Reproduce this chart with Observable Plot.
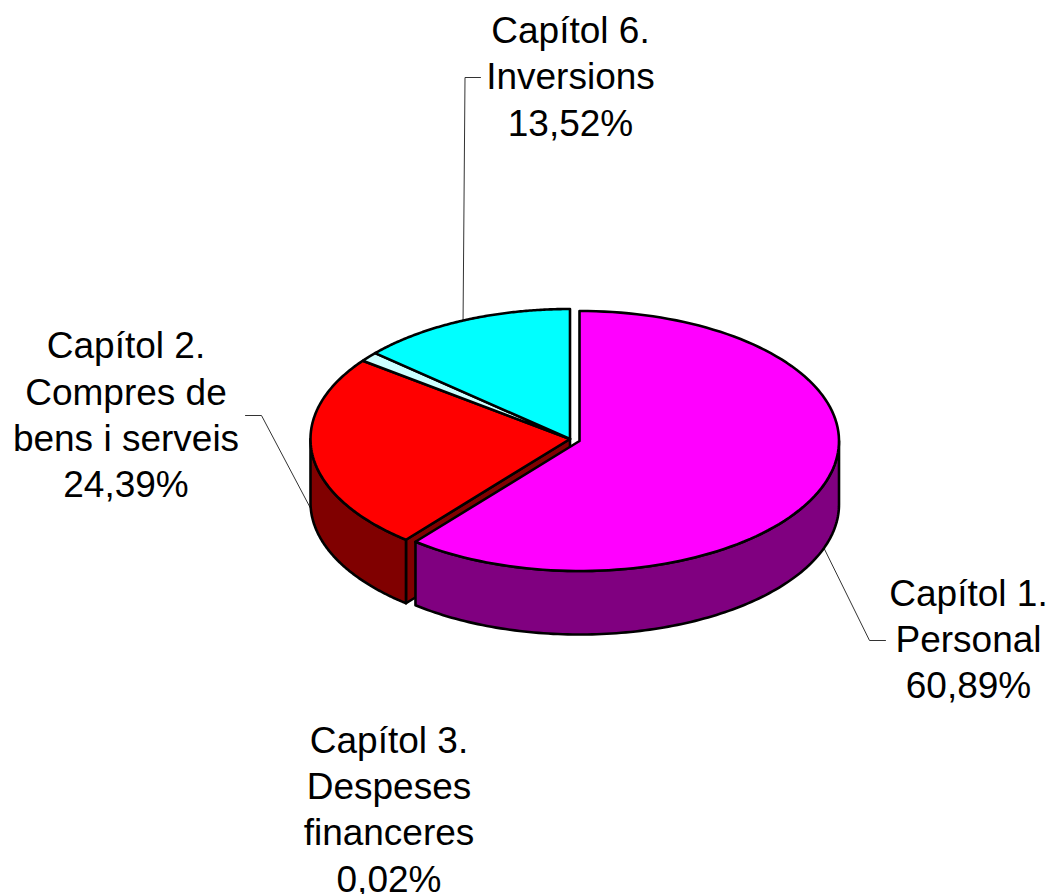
<!DOCTYPE html>
<html>
<head>
<meta charset="utf-8">
<script src="https://cdn.jsdelivr.net/npm/d3@7"></script>
<script src="https://cdn.jsdelivr.net/npm/@observablehq/plot@0.6"></script>
<style>
html,body{margin:0;padding:0;background:#fff;}
svg{display:block;}
</style>
</head>
<body>
<div id="chart"></div>
<script>
// Data
const chapters = ["Capítol 1.", "Capítol 2.", "Capítol 3.", "Capítol 6."];
const names = ["Personal", "Compres de\nbens i serveis", "Despeses\nfinanceres", "Inversions"];
const labelValues = ["60,89%", "24,39%", "0,02%", "13,52%"];
// Angular share of each slice as drawn (Capítol 3 is drawn as the remainder, wider than its label)
const drawnShares = [60.89, 24.39, 1.20, 13.52];
const topColors = ["#ff00ff", "#ff0000", "#ccffff", "#00ffff"];
const sideColors = ["#800080", "#800000", "#669999", "#009999"];

// Layout of the tilted pie
const W = 1052, H = 894;
const rx = 259.5, ry = 130, depth = 63.5;
const centers = [[579, 440.5], [569.5, 438.5], [569.5, 438.5], [569.5, 438.5]];
const labelX = [968, 125.5, 388.5, 570];
const labelY = [636.5, 412.5, 807, 74];
const elbows = [[[885, 640], [869, 640]], [[245, 415], [261, 415]], null, [[480, 77], [464.5, 77]]];
const leaderDepth = [depth, depth * 0.9, 0, 0];

const arcs = d3.pie().sort(null).value(d => d)(drawnShares);
const rim = (i, a, dy = 0) => [
  centers[i][0] + rx * Math.sin(a),
  centers[i][1] - ry * Math.cos(a) + dy
];
const sampled = (a0, a1) => d3.range(0, 121).map(k => a0 + (a1 - a0) * k / 120);

const polys = [];
const addPoly = (id, fill, pts) => pts.forEach(([x, y]) => polys.push({id, fill, x, y}));

// Outer wall of a slice, only where it faces the viewer (lower half of the ellipse)
const addWall = i => {
  const a0 = Math.max(arcs[i].startAngle, Math.PI / 2);
  const a1 = Math.min(arcs[i].endAngle, 3 * Math.PI / 2);
  if (a1 <= a0) return;
  const s = sampled(a0, a1);
  addPoly(`wall${i}`, sideColors[i], [
    ...s.map(a => rim(i, a)),
    ...s.slice().reverse().map(a => rim(i, a, depth))
  ]);
};
const addTop = i => {
  const s = sampled(arcs[i].startAngle, arcs[i].endAngle);
  addPoly(`top${i}`, topColors[i], [centers[i], ...s.map(a => rim(i, a))]);
};

// Back to front: the red cut face, red slice, thin slice, cyan slice, then the exploded magenta slice
const cutAngle = arcs[1].startAngle;
addPoly("cut1", sideColors[1], [
  centers[1],
  rim(1, cutAngle),
  rim(1, cutAngle, depth),
  [centers[1][0], centers[1][1] + depth]
]);
addWall(1); addTop(1); addTop(2); addTop(3); addWall(0); addTop(0);

// Leader lines start from the middle of each slice's rim
const leaders = [];
chapters.forEach((c, i) => {
  if (!elbows[i]) return;
  const mid = (arcs[i].startAngle + arcs[i].endAngle) / 2;
  const [x, y] = rim(i, mid, leaderDepth[i]);
  [[x, y], elbows[i][1], elbows[i][0]].forEach(p => leaders.push({id: c, x: p[0], y: p[1]}));
});

const labels = chapters.map((c, i) => ({
  text: `${c}\n${names[i]}\n${labelValues[i]}`,
  x: labelX[i],
  y: labelY[i]
}));

const chart = Plot.plot({
  width: W,
  height: H,
  margin: 0,
  style: {background: "#fff"},
  x: {domain: [0, W], range: [0, W], axis: null},
  y: {domain: [0, H], range: [0, H], axis: null},
  color: {type: "identity"},
  marks: [
    Plot.line(leaders, {x: "x", y: "y", z: "id", stroke: "#333", strokeWidth: 1, curve: "linear"}),
    Plot.line(polys, {x: "x", y: "y", z: "id", fill: "fill", stroke: "#000", strokeWidth: 2.6, curve: "linear-closed", strokeLinejoin: "round"}),
    Plot.text(labels, {
      x: "x", y: "y", text: "text",
      textAnchor: "middle", lineAnchor: "middle", lineHeight: 1.25,
      fontFamily: "Liberation Sans", fontSize: 37, fill: "#000"
    })
  ]
});
document.getElementById("chart").append(chart);
</script>
</body>
</html>
